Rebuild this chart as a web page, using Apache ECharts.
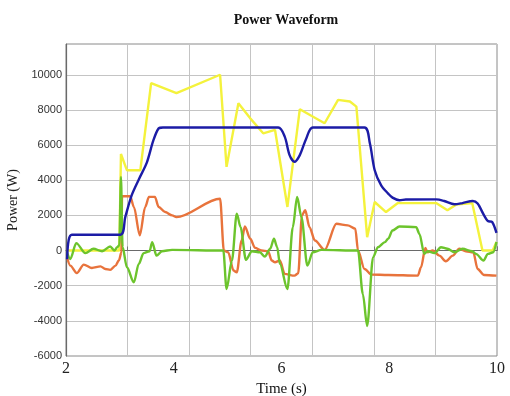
<!DOCTYPE html>
<html><head><meta charset="utf-8">
<script src="https://cdn.jsdelivr.net/npm/echarts@6/dist/echarts.min.js"></script>
<style>html,body{margin:0;padding:0;background:#fff}#c{width:510px;height:396px}</style>
</head><body><div id="c"></div>
<script>
const titleText = 'Power Waveform';
const xName = 'Time (s)';
const yName = 'Power (W)';
const xLabelTicks = [2, 4, 6, 8, 10];
const yTicks = [-6000, -4000, -2000, 0, 2000, 4000, 6000, 8000, 10000];

const blue = [[2.02,-500],[2.05,600],[2.11,900],[3.01,900],[3.10,1900],[3.22,3150],[3.36,4100],[3.50,5000],[3.62,6250],[3.72,6950],[3.80,7000],[5.94,7000],[6.06,6480],[6.15,5430],[6.24,5050],[6.34,5430],[6.46,6380],[6.58,7000],[7.54,7000],[7.64,6100],[7.73,4570],[7.85,3710],[7.98,3240],[8.06,3010],[8.19,2860],[8.31,2900],[8.87,2910],[9.02,2820],[9.21,2630],[9.36,2700],[9.55,2820],[9.64,2670],[9.76,2000],[9.83,1680],[9.91,1620],[9.99,1000]];
const yellow = [[2.02,0],[2.99,0],[3.02,5490],[3.13,4570],[3.38,4570],[3.58,9520],[4.05,8950],[4.86,10000],[4.98,4760],[5.20,8380],[5.42,7520],[5.66,6670],[5.88,6860],[6.11,2480],[6.34,8040],[6.80,7240],[7.05,8570],[7.27,8480],[7.39,8190],[7.59,760],[7.73,2760],[7.94,2190],[8.16,2700],[8.87,2700],[9.08,2290],[9.24,2610],[9.54,2700],[9.73,0],[9.92,0],[9.99,480]];
const green = [[2.02,-100],[2.08,-480],[2.19,420],[2.36,-150],[2.51,100],[2.67,-40],[2.82,230],[2.90,0],[2.95,190],[2.99,300],[3.02,4190],[3.05,200],[3.13,-950],[3.26,-1810],[3.35,-760],[3.44,-150],[3.55,-40],[3.60,480],[3.68,-290],[3.78,-40],[3.97,40],[4.92,0],[4.98,-2190],[5.08,-570],[5.17,2100],[5.24,1330],[5.34,-530],[5.45,-40],[5.60,-100],[5.69,-340],[5.79,100],[5.86,670],[5.92,190],[5.97,-760],[6.11,-2190],[6.21,1330],[6.29,3050],[6.37,1900],[6.48,-860],[6.58,-100],[6.74,40],[7.42,0],[7.51,-2480],[7.59,-4290],[7.70,-380],[7.79,190],[7.92,480],[7.98,670],[8.06,1140],[8.19,1370],[8.50,1330],[8.56,950],[8.65,-190],[8.71,-40],[8.84,-150],[8.96,190],[9.08,100],[9.21,-100],[9.36,100],[9.54,-40],[9.61,-190],[9.75,-570],[9.83,-190],[9.93,-100],[9.99,480]];
const orange = [[2.02,-380],[2.08,-860],[2.20,-1280],[2.33,-800],[2.48,-990],[2.64,-900],[2.73,-1050],[2.82,-1100],[2.92,-860],[2.98,-570],[3.03,-100],[3.04,3090],[3.19,3090],[3.26,2480],[3.37,860],[3.47,2480],[3.54,3050],[3.65,3050],[3.72,2480],[3.84,2190],[3.97,2000],[4.05,1900],[4.86,2950],[4.93,0],[5.01,-100],[5.11,-1140],[5.17,-1240],[5.26,570],[5.32,1370],[5.42,670],[5.51,150],[5.63,0],[5.75,-40],[5.82,-570],[5.88,-670],[5.97,-570],[6.06,-1330],[6.24,-1430],[6.31,-1300],[6.38,2000],[6.44,2290],[6.52,1330],[6.62,570],[6.80,40],[7.02,1520],[7.23,1430],[7.37,1240],[7.42,0],[7.54,-1050],[7.67,-1370],[7.98,-1390],[8.53,-1430],[8.59,-950],[8.67,150],[8.71,-100],[8.81,0],[8.93,-290],[9.05,-610],[9.18,-290],[9.30,100],[9.42,-40],[9.56,-100],[9.64,-1050],[9.76,-1390],[9.99,-1430]];

const chart = echarts.init(document.getElementById('c'), null, {renderer: 'canvas'});
const xMin = xLabelTicks[0], xMax = xLabelTicks[xLabelTicks.length - 1];
const gridColor = '#c4c4c4';
function line(data, color, smooth, mono, z) {
  return {type: 'line', data: data, xAxisIndex: 0, showSymbol: false, symbol: 'none',
    smooth: smooth, smoothMonotone: mono, z: z,
    lineStyle: {color: color, width: 2.4}, animation: false};
}
chart.setOption({
  animation: false,
  backgroundColor: '#fff',
  title: {text: titleText, left: 281, top: 8, textAlign: 'center',
    textStyle: {fontFamily: 'Liberation Serif', fontWeight: 'bold', fontSize: 14, color: '#111'}},
  grid: {left: 66, right: 13, top: 44, bottom: 40, show: true, borderColor: '#8a8a8a', borderWidth: 1,
    containLabel: false, outerBoundsMode: 'none'},
  xAxis: [{
    type: 'value', min: xMin, max: xMax, interval: (xMax - xMin) / 7, position: 'bottom',
    axisLine: {show: true, lineStyle: {color: '#6a6a6a', width: 1.2}},
    axisTick: {show: true, inside: true, length: 4, lineStyle: {color: '#777'}},
    axisLabel: {show: false},
    splitLine: {show: true, lineStyle: {color: gridColor, width: 1}}
  }, {
    type: 'value', min: xMin, max: xMax, interval: 2, position: 'bottom',
    name: xName, nameLocation: 'middle', nameGap: 18,
    nameTextStyle: {fontFamily: 'Liberation Serif', fontSize: 15, color: '#111'},
    axisLine: {show: false}, axisTick: {show: false}, splitLine: {show: false},
    axisLabel: {show: true, margin: 5, fontFamily: 'Liberation Serif', fontSize: 16, color: '#222'}
  }],
  yAxis: {
    type: 'value', min: yTicks[0], max: 11750, interval: 2000,
    name: yName, nameLocation: 'middle', nameGap: 44,
    nameTextStyle: {fontFamily: 'Liberation Serif', fontSize: 14, color: '#222'},
    axisLine: {show: true, lineStyle: {color: '#6a6a6a', width: 1.2}},
    axisTick: {show: false},
    axisLabel: {showMaxLabel: false, margin: 4, fontFamily: 'Liberation Sans', fontSize: 11, color: '#333',
      formatter: function (v) { return String(v); }},
    splitLine: {show: true, lineStyle: {color: gridColor, width: 1}}
  },
  series: [
    line(yellow, '#f4f23c', false, null, 2),
    line(blue, '#1c1ca6', 0.3, null, 5),
    line(orange, '#e8733c', 0.3, 'x', 3),
    line(green, '#6cc42c', 0.3, 'x', 4)
  ]
});
</script></body></html>
